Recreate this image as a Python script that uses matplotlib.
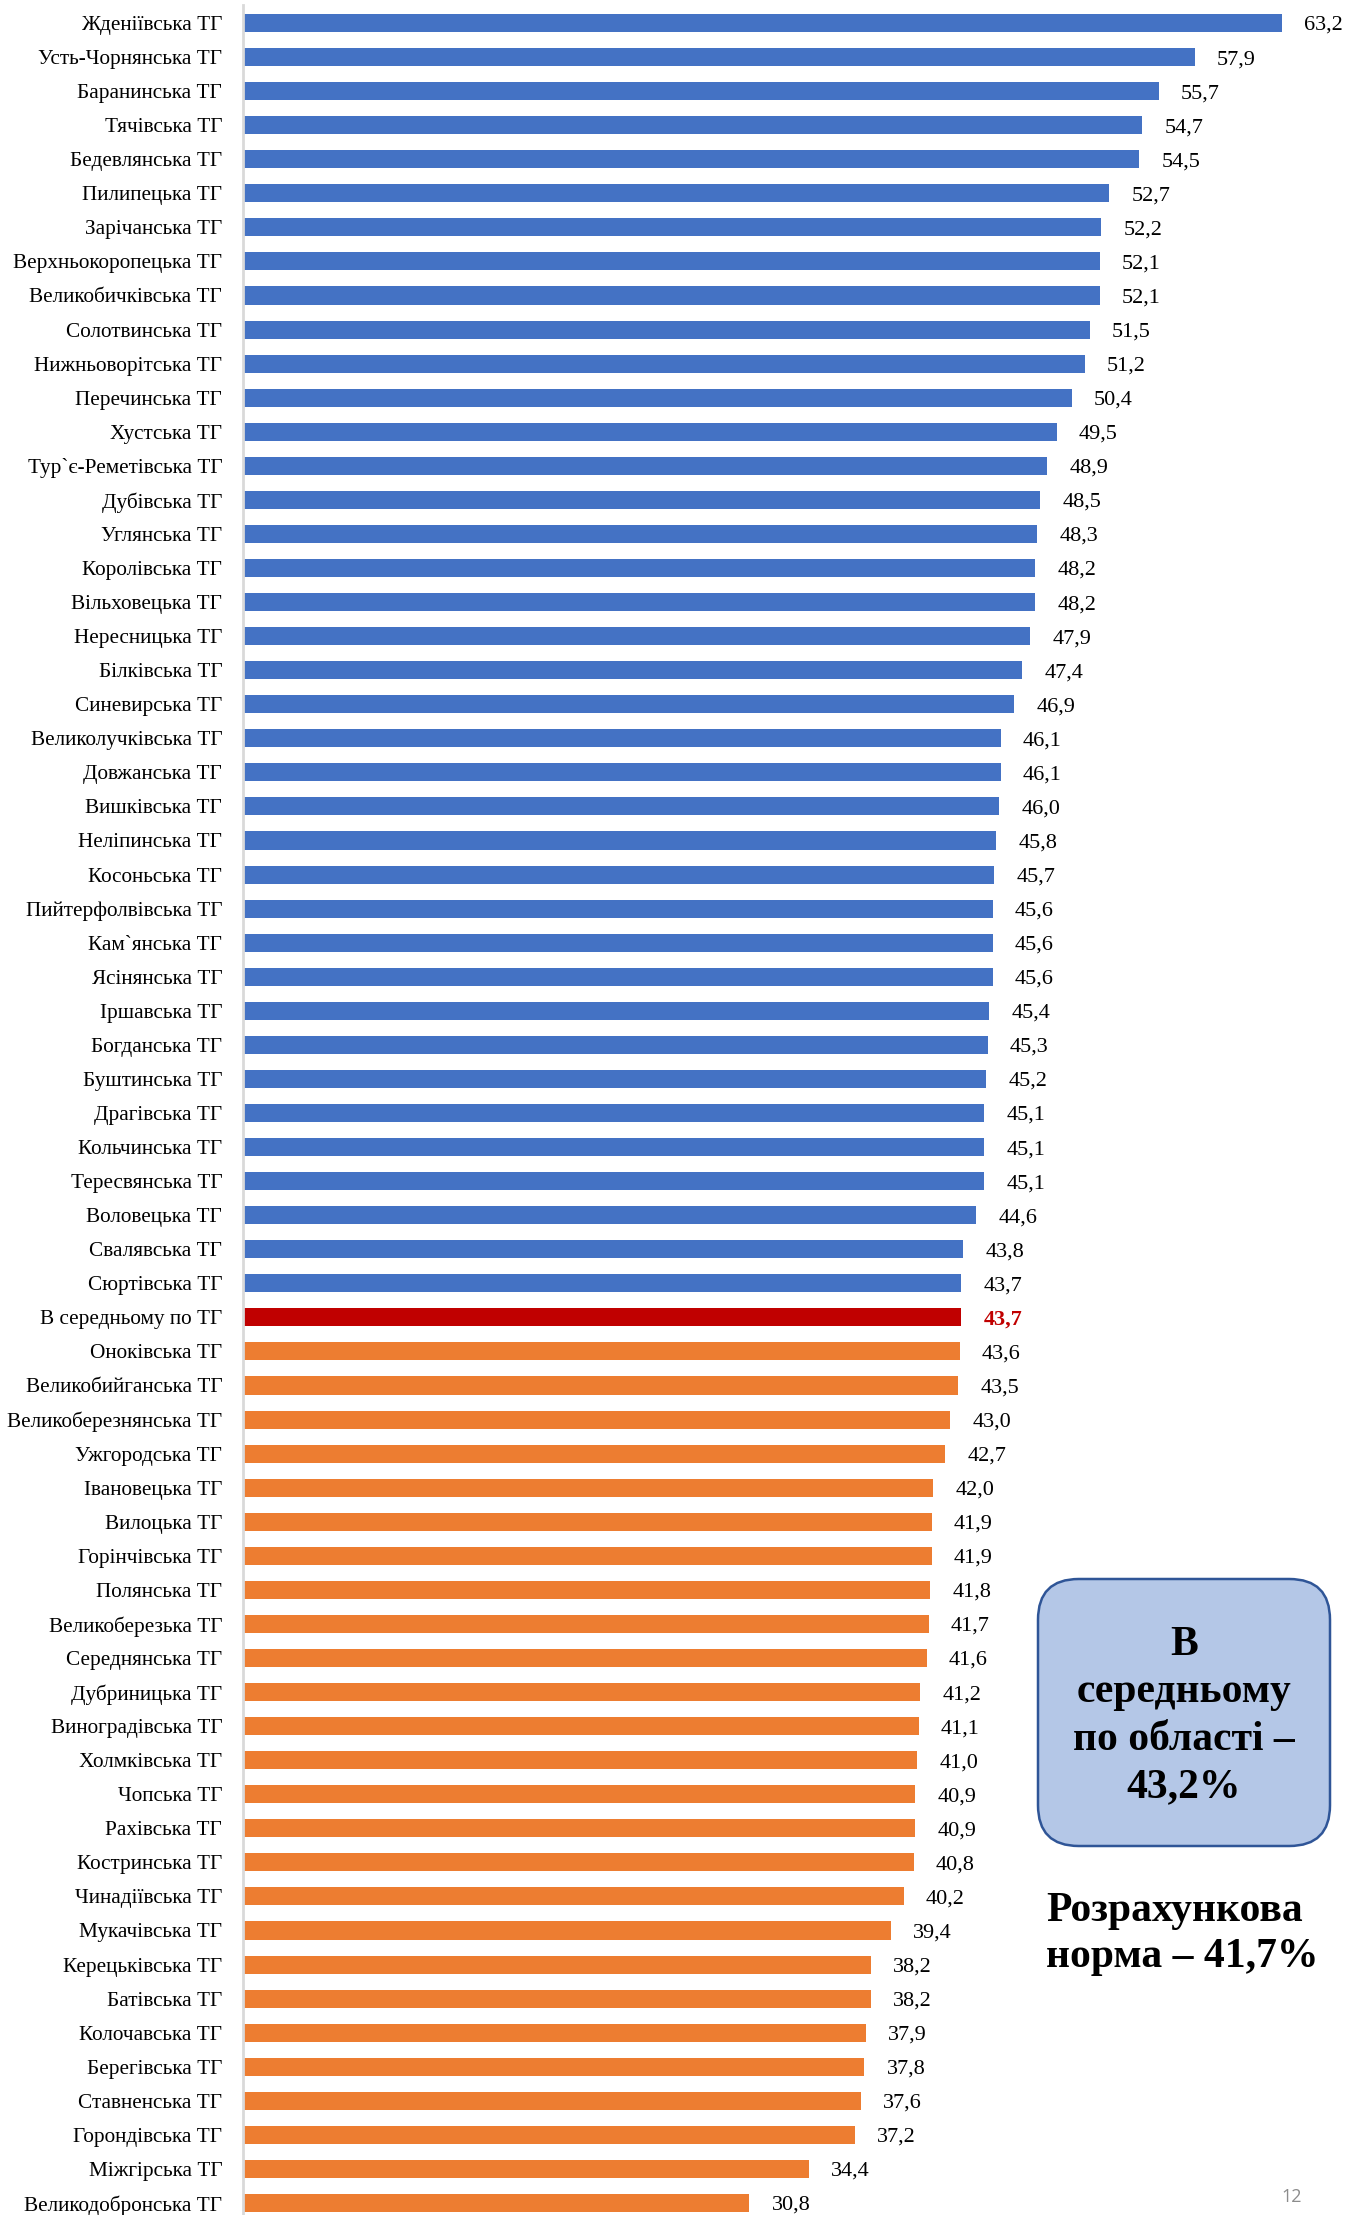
import matplotlib
matplotlib.use("Agg")
import matplotlib.pyplot as plt
from matplotlib.patches import FancyBboxPatch

categories = [
    "Жденіївська ТГ", "Усть-Чорнянська ТГ", "Баранинська ТГ", "Тячівська ТГ",
    "Бедевлянська ТГ", "Пилипецька ТГ", "Зарічанська ТГ", "Верхньокоропецька ТГ",
    "Великобичківська ТГ", "Солотвинська ТГ", "Нижньоворітська ТГ", "Перечинська ТГ",
    "Хустська ТГ", "Тур`є-Реметівська ТГ", "Дубівська ТГ", "Углянська ТГ",
    "Королівська ТГ", "Вільховецька ТГ", "Нересницька ТГ", "Білківська ТГ",
    "Синевирська ТГ", "Великолучківська ТГ", "Довжанська ТГ", "Вишківська ТГ",
    "Неліпинська ТГ", "Косоньська ТГ", "Пийтерфолвівська ТГ", "Кам`янська ТГ",
    "Ясінянська ТГ", "Іршавська ТГ", "Богданська ТГ", "Буштинська ТГ",
    "Драгівська ТГ", "Кольчинська ТГ", "Тересвянська ТГ", "Воловецька ТГ",
    "Свалявська ТГ", "Сюртівська ТГ", "В середньому по ТГ", "Оноківська ТГ",
    "Великобийганська ТГ", "Великоберезнянська ТГ", "Ужгородська ТГ", "Івановецька ТГ",
    "Вилоцька ТГ", "Горінчівська ТГ", "Полянська ТГ", "Великоберезька ТГ",
    "Середнянська ТГ", "Дубриницька ТГ", "Виноградівська ТГ", "Холмківська ТГ",
    "Чопська ТГ", "Рахівська ТГ", "Костринська ТГ", "Чинадіївська ТГ",
    "Мукачівська ТГ", "Керецьківська ТГ", "Батівська ТГ", "Колочавська ТГ",
    "Берегівська ТГ", "Ставненська ТГ", "Горондівська ТГ", "Міжгірська ТГ",
    "Великодобронська ТГ",
]
values = [
    63.2, 57.9, 55.7, 54.7, 54.5, 52.7, 52.2, 52.1, 52.1, 51.5, 51.2, 50.4,
    49.5, 48.9, 48.5, 48.3, 48.2, 48.2, 47.9, 47.4, 46.9, 46.1, 46.1, 46.0,
    45.8, 45.7, 45.6, 45.6, 45.6, 45.4, 45.3, 45.2, 45.1, 45.1, 45.1, 44.6,
    43.8, 43.7, 43.7, 43.6, 43.5, 43.0, 42.7, 42.0, 41.9, 41.9, 41.8, 41.7,
    41.6, 41.2, 41.1, 41.0, 40.9, 40.9, 40.8, 40.2, 39.4, 38.2, 38.2, 37.9,
    37.8, 37.6, 37.2, 34.4, 30.8,
]
average_label = "В середньому по ТГ"
region_text = "В\nсередньому\nпо області –\n43,2%"
norm_text = "Розрахункова\nнорма – 41,7%"
page_number = "12"

BLUE = "#4472C4"
ORANGE = "#ED7D31"
RED = "#C00000"
SERIF = ["Liberation Serif", "DejaVu Serif"]

W, H = 1360, 2215
fig = plt.figure(figsize=(W / 100, H / 100), dpi=100)
fig.patch.set_facecolor("white")

left_px, right_px = 243, 1340
ax = fig.add_axes([left_px / W, 0, (right_px - left_px) / W, 1])

px_per_unit = (1282 - 243) / 63.2
ax.set_xlim(0, (right_px - left_px) / px_per_unit)

first_c, step = 23, (2203 - 23) / 64
ax.set_ylim((H - first_c) / step, -first_c / step)

avg_idx = categories.index(average_label)
colors = []
for i in range(len(categories)):
    if i < avg_idx:
        colors.append(BLUE)
    elif i == avg_idx:
        colors.append(RED)
    else:
        colors.append(ORANGE)

ypos = list(range(len(categories)))
bars = ax.barh(ypos, values, height=0.53, color=colors, zorder=2)

labels = [f"{v:.1f}".replace(".", ",") for v in values]
texts = ax.bar_label(bars, labels=labels, padding=16, fontsize=16,
                     family=SERIF, color="black")
for t in texts:
    t.set_va("center_baseline")
texts[avg_idx].set_color(RED)
texts[avg_idx].set_fontweight("bold")

ax.set_yticks(ypos)
ax.set_yticklabels(categories, fontsize=15.3, family=SERIF)
ax.tick_params(axis="y", length=0, pad=15)
ax.set_xticks([])

for s in ["top", "right", "bottom"]:
    ax.spines[s].set_visible(False)
ax.spines["left"].set_color("#d9d9d9")
ax.spines["left"].set_linewidth(2)
ax.spines["left"].set_bounds((H - first_c) / step, (5 - first_c) / step)

# Rounded info box
bx0, bx1 = 1038 / W, 1330 / W
by0, by1 = 1 - 1846 / H, 1 - 1579 / H
box = FancyBboxPatch((bx0, by0), bx1 - bx0, by1 - by0,
                     boxstyle="round,pad=0,rounding_size=0.03",
                     transform=fig.transFigure, facecolor="#B4C7E7",
                     edgecolor="#2F5597", linewidth=1.8, mutation_aspect=W / H)
fig.patches.append(box)
fig.text((bx0 + bx1) / 2, 1 - 1716 / H, region_text, ha="center", va="center",
         fontsize=30, fontweight="bold", family=SERIF, linespacing=1.33)

fig.text(1046 / W, 1 - 1934 / H, norm_text, ha="left", va="center",
         fontsize=30, fontweight="bold", family=SERIF, linespacing=1.28)

fig.text(1292 / W, 1 - 2197 / H, page_number, ha="center", va="center",
         fontsize=13, color="#8c8c8c", family=["Open Sans", "DejaVu Sans"])

fig.savefig("out.png", dpi=100)
